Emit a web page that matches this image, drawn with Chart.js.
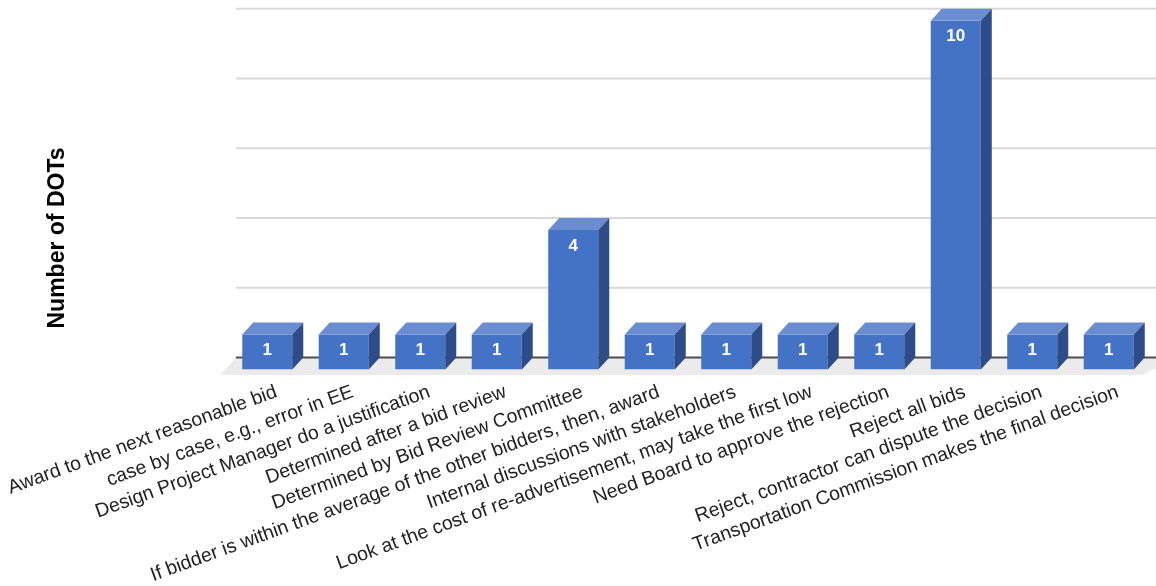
<!DOCTYPE html>
<html>
<head>
<meta charset="utf-8">
<script src="https://cdn.jsdelivr.net/npm/chart.js@4.4.1/dist/chart.umd.min.js"></script>
<style>
  html, body { margin: 0; padding: 0; background: #ffffff; }
  #wrap { width: 1156px; height: 586px; }
</style>
</head>
<body>
<div id="wrap"><canvas id="chart" width="1156" height="586"></canvas></div>
<script>
// Responses: how each DOT handles a bid that is judged unbalanced or too high
const categories = [
  'Award to the next reasonable bid',
  'case by case, e.g., error in EE',
  'Design Project Manager do a justification',
  'Determined after a bid review',
  'Determined by Bid Review Committee',
  'If bidder is within the average of the other bidders, then, award',
  'Internal discussions with stakeholders',
  'Look at the cost of re-advertisement, may take the first low',
  'Need Board to approve the rejection',
  'Reject all bids',
  'Reject, contractor can dispute the decision',
  'Transportation Commission makes the final decision'
];
const dotCounts = [1, 1, 1, 1, 4, 1, 1, 1, 1, 10, 1, 1];
const yMin = 0;
const yMax = 10;
const yStep = 2;
const yTitle = 'Number of DOTs';

const FONT = '"Liberation Sans", Arial, Helvetica, sans-serif';
const FRONT = '#4472c4';
const TOP = '#6a8dd2';
const SIDE = '#2e4d88';
const DX = 11;   // depth offset of the 3D boxes, px
const DY = 12;

const depthPlugin = {
  id: 'depth3d',
  beforeDatasetsDraw(chart) {
    const ctx = chart.ctx;
    const area = chart.chartArea;
    const y = chart.scales.y;
    const base = y.getPixelForValue(0);
    ctx.save();
    // floor
    const fl = area.left - 4, fr = area.right;
    const tf = -0.45;
    ctx.fillStyle = '#ebebeb';
    ctx.beginPath();
    ctx.moveTo(fl + DX * tf, base - DY * tf);
    ctx.lineTo(fl + DX, base - DY);
    ctx.lineTo(fr + DX + 20, base - DY);
    ctx.lineTo(fr + DX * tf, base - DY * tf);
    ctx.closePath();
    ctx.fill();
    // back-wall gridlines
    y.ticks.forEach(t => {
      const py = y.getPixelForValue(t.value) - DY;
      ctx.beginPath();
      ctx.moveTo(fl + DX, py);
      ctx.lineTo(chart.width, py);
      if (t.value === yMin) {
        ctx.strokeStyle = '#4d4d4d';
        ctx.lineWidth = 2;
      } else {
        ctx.strokeStyle = '#d9d9d9';
        ctx.lineWidth = 2;
      }
      ctx.stroke();
    });
    ctx.restore();
  },
  afterDatasetsDraw(chart) {
    const ctx = chart.ctx;
    const meta = chart.getDatasetMeta(0);
    const data = chart.data.datasets[0].data;
    ctx.save();
    meta.data.forEach((bar, i) => {
      const p = bar.getProps(['x', 'y', 'base', 'width'], true);
      const l = p.x - p.width / 2, r = p.x + p.width / 2;
      const top = p.y, bot = p.base;
      // top face
      ctx.fillStyle = TOP;
      ctx.beginPath();
      ctx.moveTo(l, top);
      ctx.lineTo(l + DX, top - DY);
      ctx.lineTo(r + DX, top - DY);
      ctx.lineTo(r, top);
      ctx.closePath();
      ctx.fill();
      // side face
      ctx.fillStyle = SIDE;
      ctx.beginPath();
      ctx.moveTo(r, top);
      ctx.lineTo(r + DX, top - DY);
      ctx.lineTo(r + DX, bot - DY);
      ctx.lineTo(r, bot);
      ctx.closePath();
      ctx.fill();
      // value label
      ctx.fillStyle = '#ffffff';
      ctx.font = 'bold 17px ' + FONT;
      ctx.textAlign = 'center';
      ctx.textBaseline = 'middle';
      ctx.fillText(String(data[i]), p.x, top + 16);
    });
    // y axis title
    ctx.translate(57.5, 238);
    ctx.rotate(-Math.PI / 2);
    ctx.fillStyle = '#000000';
    ctx.font = 'bold 23px ' + FONT;
    ctx.textAlign = 'center';
    ctx.textBaseline = 'middle';
    ctx.fillText(yTitle, 0, 0);
    ctx.restore();
  }
};

new Chart(document.getElementById('chart'), {
  type: 'bar',
  data: {
    labels: categories,
    datasets: [{
      data: dotCounts,
      backgroundColor: FRONT,
      borderWidth: 0,
      categoryPercentage: 1,
      barPercentage: 0.654
    }]
  },
  options: {
    responsive: false,
    animation: false,
    devicePixelRatio: 1,
    layout: { padding: { left: 229, right: 9, top: 20.7, bottom: 0 } },
    plugins: { legend: { display: false }, tooltip: { enabled: false } },
    scales: {
      x: {
        grid: { display: false, drawTicks: false },
        border: { display: false },
        ticks: {
          autoSkip: false,
          minRotation: 20,
          maxRotation: 20,
          padding: 11,
          labelOffset: 9,
          color: '#222222',
          font: { family: FONT, size: 19.5 }
        },
        afterFit(scale) {
          scale.paddingLeft = 0;
          scale.paddingRight = 0;
          scale.height = 216.5;
        }
      },
      y: {
        display: false,
        min: yMin,
        max: yMax,
        ticks: { stepSize: yStep }
      }
    }
  },
  plugins: [depthPlugin]
});
</script>
</body>
</html>
